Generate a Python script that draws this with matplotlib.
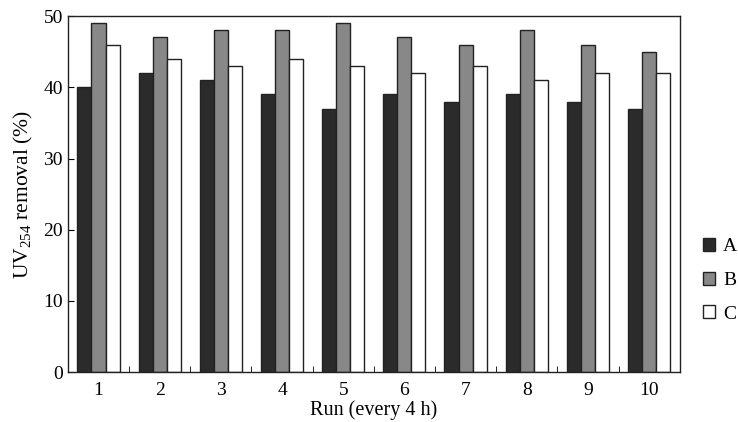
import matplotlib
matplotlib.use("Agg")
import matplotlib.pyplot as plt
import numpy as np

plt.rcParams['font.family'] = ['Liberation Serif', 'DejaVu Serif']
plt.rcParams['mathtext.fontset'] = 'custom'
plt.rcParams['mathtext.rm'] = 'Liberation Serif'

runs = [1, 2, 3, 4, 5, 6, 7, 8, 9, 10]
series_a = [40, 42, 41, 39, 37, 39, 38, 39, 38, 37]
series_b = [49, 47, 48, 48, 49, 47, 46, 48, 46, 45]
series_c = [46, 44, 43, 44, 43, 42, 43, 41, 42, 42]
names = ['A', 'B', 'C']
colors = ['#2b2b2b', '#888888', '#ffffff']

fig = plt.figure(figsize=(7.38, 4.22), dpi=100)
ax = fig.add_axes([0.092, 0.118, 0.829, 0.844])

x = np.array(runs)
w = 0.23
for i, (vals, name, col) in enumerate(zip([series_a, series_b, series_c], names, colors)):
    ax.bar(x + (i - 1) * w, vals, width=w, color=col, edgecolor='#222222',
           linewidth=1.0, label=name)

ax.set_xlim(0.5, 10.5)
ax.set_ylim(0, 50)
ax.set_yticks([0, 10, 20, 30, 40, 50])
ax.set_xticks(runs)
ax.set_xticks(np.arange(1.5, 10, 1), minor=True)
ax.tick_params(axis='x', which='major', length=0, labelsize=14, pad=7)
ax.tick_params(axis='x', which='minor', direction='in', length=4)
ax.tick_params(axis='y', direction='in', length=4, labelsize=14)
for s in ax.spines.values():
    s.set_linewidth(1.0)
    s.set_color('#222222')

ax.set_xlabel('Run (every 4 h)', fontsize=14.5, labelpad=1)
ax.set_ylabel(r'UV$_{\mathregular{254}}$ removal (%)', fontsize=15.5, labelpad=6)

fig.legend(loc='center left', bbox_to_anchor=(0.952, 0.336), frameon=False,
           fontsize=14, handlelength=0.65, handleheight=0.65, handletextpad=0.4,
           labelspacing=0.85, borderpad=0, borderaxespad=0)

fig.savefig('out.png', dpi=100)
